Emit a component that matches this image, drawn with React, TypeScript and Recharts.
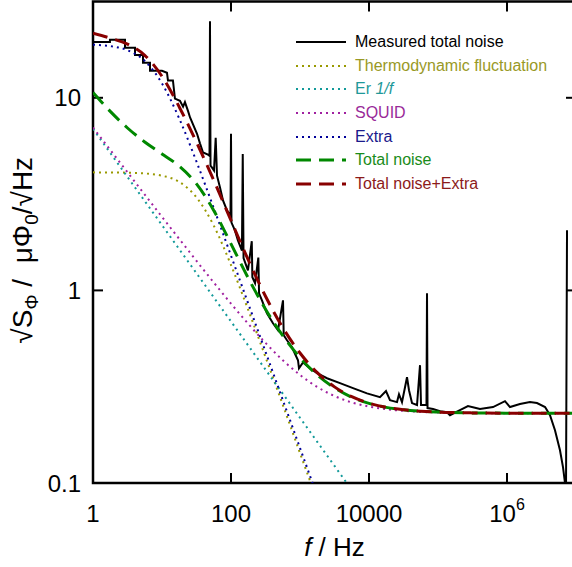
import { LineChart, Line, XAxis, YAxis, Legend, Label, ReferenceArea, ReferenceLine } from 'recharts'

const FONT = '"Liberation Sans", Arial, Helvetica, sans-serif'

// frequency grid of the model curves (Hz), quarter-decade steps
const FREQ = [
  1, 1.778, 3.162, 5.623, 10, 17.78, 31.62, 56.23, 100, 177.8, 316.2, 562.3, 1000,
  1778, 3162, 5623, 10000, 17780, 31620, 56230, 1e5, 316200, 1e6, 3162000, 1e7,
]

const THERMO = [
  4.1, 4.095, 4.083, 4.048, 3.94, 3.66, 3.04, 2.17, 1.354, 0.792, 0.451, 0.255, 0.143,
  0.081, null, null, null, null, null, null, null, null, null, null, null,
]
const ER = [
  6.9, 5.175, 3.88, 2.91, 2.182, 1.636, 1.227, 0.92, 0.69, 0.5175, 0.388, 0.291, 0.2182,
  0.1636, 0.1227, 0.092, null, null, null, null, null, null, null, null, null,
]
const SQUID = [
  7.004, 5.361, 4.105, 3.144, 2.41, 1.85, 1.423, 1.099, 0.854, 0.67, 0.534, 0.434, 0.364,
  0.315, 0.283, 0.262, 0.2495, 0.2416, 0.2369, 0.234, 0.2324, 0.2308, 0.2303, 0.23, 0.23,
]
const EXTRA = [
  18.85, 18.55, 17.67, 15.54, 11.87, 7.8, 4.66, 2.676, 1.515, 0.854, 0.4805, 0.2703, 0.152,
  0.0855, null, null, null, null, null, null, null, null, null, null, null,
]
const TOTAL = [
  10.65, 8.502, 6.969, 5.895, 5.108, 4.416, 3.574, 2.601, 1.743, 1.159, 0.799, 0.582, 0.448,
  0.364, 0.312, 0.279, 0.259, 0.247, 0.24, 0.2358, 0.2334, 0.2312, 0.2304, 0.2301, 0.23,
]
const TOTAL_EXTRA = [
  21.65, 20.41, 18.99, 16.62, 12.92, 8.963, 5.873, 3.732, 2.309, 1.44, 0.9325, 0.641, 0.473,
  0.374, 0.3155, 0.2805, 0.2597, 0.2472, 0.24, 0.2358, 0.2334, 0.2312, 0.2304, 0.2301, 0.23,
]

// measured spectrum (Hz, µΦ0/√Hz)
const MEAS_F = [
  1, 1.76, 1.76, 2.91, 2.91, 4.06, 4.06, 5.3, 5.3, 6.7, 6.7, 10, 11.8, 12.2, 14.4, 15.4,
  18.2, 20.2, 21.5, 23.8, 25.5, 32.2, 35.5, 39.3, 46.4, 48.8, 49.6, 50.5, 53.1, 56.7, 60,
  62.7, 69.3, 76.6, 87.5, 98.3, 100, 101.6, 114, 126, 144, 148, 152, 176, 200, 204, 223,
  249, 255, 281, 332, 406, 480, 567, 581, 648, 766, 935, 967, 1105, 1396, 1763, 2462,
  3800, 5865, 9355, 14430, 17630, 20150, 25470, 27210, 30070, 33260, 35550, 38000, 42000,
  49650, 54850, 56750, 68100, 69300, 70500, 84700, 107000, 135000, 149000, 208000, 272000,
  406000, 627000, 935000, 1105000, 1540000, 2150000, 2720000, 3560000, 4200000, 4960000,
  5860000, 6480000, 6930000, 7160000, 7410000,
]
const MEAS_V = [
  19.5, 19.5, 20, 20, 18.2, 18.2, 16.7, 16.7, 15.2, 15.2, 13.8, 13.8, 13.5, 12.3, 12.3, 9.9,
  9.65, 9.0, 9.5, 8.55, 7.9, 6.5, 5.8, 5.2, 5.07, 5.0, 25, 4.44, 4.34, 4.19, 6.2,
  3.94, 3.42, 2.93, 2.6, 2.45, 6.5, 2.25, 2.05, 1.82, 1.61, 5.1, 1.47, 1.27, 1.8, 1.17, 1.09,
  1.48, 0.965, 0.888, 0.76, 0.675, 0.621, 0.888, 0.585, 0.551, 0.507, 0.434, 0.394, 0.423,
  0.394, 0.372, 0.35, 0.33, 0.311, 0.292, 0.279, 0.3, 0.269, 0.263, 0.289, 0.263, 0.314,
  0.354, 0.303, 0.26, 0.254, 0.409, 0.254, 0.254, 0.965, 0.245, 0.242, 0.236, 0.233, 0.225,
  0.239, 0.251, 0.242, 0.248, 0.266, 0.248, 0.257, 0.263, 0.26, 0.248, 0.225, 0.188, 0.148,
  0.121, 0.1, 0.087, 2.05,
]

const X_TICKS = [1, 100, 10000, 1e6]
const Y_TICKS = [0.1, 1, 10]
const X_DOMAIN = [1, 1e7]
const Y_DOMAIN = [0.1, 31.62]

const modelRows = FREQ.map((f, i) => ({
  f,
  thermo: THERMO[i],
  er: ER[i],
  squid: SQUID[i],
  extra: EXTRA[i],
  total: TOTAL[i],
  totalExtra: TOTAL_EXTRA[i],
}))
const measRows = MEAS_F.map((f, i) => ({ f, v: MEAS_V[i] }))

const DOT = '2 4'
const DASH = '15 8'

const SERIES = [
  { key: 'v', name: 'Measured total noise', color: '#000000', text: '#000000', dash: undefined, width: 2 },
  { key: 'thermo', name: 'Thermodynamic fluctuation', color: '#999900', text: '#999926', dash: DOT, width: 2 },
  { key: 'er', name: 'Er 1/f', color: '#119999', text: '#1f9999', dash: DOT, width: 2 },
  { key: 'squid', name: 'SQUID', color: '#a020a0', text: '#992a99', dash: DOT, width: 2 },
  { key: 'extra', name: 'Extra', color: '#000099', text: '#1a1a8c', dash: DOT, width: 2 },
  { key: 'total', name: 'Total noise', color: '#008800', text: '#1a8c1a', dash: DASH, width: 3 },
  { key: 'totalExtra', name: 'Total noise+Extra', color: '#880000', text: '#8c1a1a', dash: DASH, width: 3 },
]

const TICK_LEN = 10
const TICK_W = 2
const X_LABEL_GAP = 22
const Y_LABEL_GAP = 12

function BottomTick({ x, y, payload }: any) {
  const v = payload.value as number
  const exp = Math.round(Math.log10(v))
  const common = { x, y, dy: '0.71em', textAnchor: 'middle' as const, fontSize: 24, fontFamily: FONT, fill: '#000' }
  if (exp >= 6) {
    return (
      <text {...common}>
        10<tspan dy={-12} fontSize={16}>{exp}</tspan>
      </text>
    )
  }
  return <text {...common}>{v}</text>
}

function LeftTick({ x, y, payload }: any) {
  return (
    <text x={x} y={y} dy="0.355em" textAnchor="end" fontSize={24} fontFamily={FONT} fill="#000">
      {payload.value}
    </text>
  )
}

// inward tick marks: drawn at both ends of a full-height / full-width reference line
function XTickMarks({ x1, y1, y2 }: any) {
  const top = Math.min(y1, y2)
  const bottom = Math.max(y1, y2)
  return (
    <g>
      <line x1={x1} x2={x1} y1={bottom} y2={bottom - TICK_LEN} stroke="#000" strokeWidth={TICK_W} />
      <line x1={x1} x2={x1} y1={top} y2={top + TICK_LEN} stroke="#000" strokeWidth={TICK_W} />
    </g>
  )
}

function YTickMarks({ x1, x2, y1 }: any) {
  const left = Math.min(x1, x2)
  const right = Math.max(x1, x2)
  return (
    <g>
      <line x1={left} x2={left + TICK_LEN} y1={y1} y2={y1} stroke="#000" strokeWidth={TICK_W} />
      <line x1={right} x2={right - TICK_LEN} y1={y1} y2={y1} stroke="#000" strokeWidth={TICK_W} />
    </g>
  )
}

function XTitle({ viewBox }: any) {
  const vb = viewBox ?? { x: 93, y: 483, width: 483, height: 84 }
  return (
    <text x={vb.x + vb.width / 2} y={vb.y + 73} textAnchor="middle" fontSize={26} fontFamily={FONT} fill="#000">
      <tspan fontStyle="italic">f</tspan> / Hz
    </text>
  )
}

function YTitle({ viewBox }: any) {
  const vb = viewBox ?? { x: 0, y: 1.5, width: 93, height: 481.5 }
  const cx = vb.x + 32
  const cy = vb.y + vb.height / 2 + 8
  return (
    <text
      x={cx}
      y={cy}
      transform={`rotate(-90 ${cx} ${cy})`}
      textAnchor="middle"
      fontSize={28}
      fontFamily={FONT}
      fill="#000"
      style={{ whiteSpace: 'pre' }}
    >
      √S<tspan dy={6} fontSize={19}>Φ</tspan>
      <tspan dy={-6}>{' /  μΦ'}</tspan>
      <tspan dy={6} fontSize={19}>0</tspan>
      <tspan dy={-6}>/√Hz</tspan>
    </text>
  )
}

function LegendBox() {
  return (
    <div style={{ fontFamily: FONT, fontSize: 16 }}>
      {SERIES.map((s) => (
        <div key={s.key} style={{ display: 'flex', alignItems: 'center', height: 23.7 }}>
          <svg width={50} height={6} style={{ display: 'block' }}>
            <line x1={0} y1={3} x2={50} y2={3} stroke={s.color} strokeWidth={s.width} strokeDasharray={s.dash} />
          </svg>
          <span style={{ marginLeft: 9, color: s.text, whiteSpace: 'nowrap' }}>
            {s.key === 'er' ? (
              <>
                Er <i>1/f</i>
              </>
            ) : (
              s.name
            )}
          </span>
        </div>
      ))}
    </div>
  )
}

export default function App() {
  return (
    <div style={{ position: 'absolute', left: 0, top: 0, width: 572, height: 567, overflow: 'hidden', background: '#fff' }}>
      <LineChart width={600} height={567} data={modelRows} margin={{ top: 1.5, right: 24, bottom: 0, left: 0 }}>
        <XAxis
          dataKey="f"
          type="number"
          scale="log"
          domain={X_DOMAIN}
          allowDataOverflow
          ticks={X_TICKS}
          interval={0}
          tick={<BottomTick />}
          tickSize={0}
          tickMargin={X_LABEL_GAP}
          height={84}
          axisLine={false}
          tickLine={false}
        >
          <Label content={<XTitle />} />
        </XAxis>
        <YAxis
          type="number"
          scale="log"
          domain={Y_DOMAIN}
          allowDataOverflow
          ticks={Y_TICKS}
          interval={0}
          width={93}
          tick={<LeftTick />}
          tickSize={0}
          tickMargin={Y_LABEL_GAP}
          axisLine={false}
          tickLine={false}
        >
          <Label content={<YTitle />} />
        </YAxis>
        {/* plot frame */}
        <ReferenceArea
          x1={X_DOMAIN[0]}
          x2={X_DOMAIN[1]}
          y1={Y_DOMAIN[0]}
          y2={Y_DOMAIN[1]}
          fill="none"
          stroke="#000"
          strokeWidth={2.5}
          ifOverflow="visible"
        />
        {X_TICKS.map((t) => (
          <ReferenceLine key={`xt${t}`} x={t} shape={XTickMarks} ifOverflow="visible" />
        ))}
        {Y_TICKS.map((t) => (
          <ReferenceLine key={`yt${t}`} y={t} shape={YTickMarks} ifOverflow="visible" />
        ))}
        <Legend
          layout="vertical"
          align="center"
          verticalAlign="middle"
          wrapperStyle={{ left: 296, top: 30, width: 'auto' }}
          content={<LegendBox />}
        />
        <Line
          data={measRows}
          dataKey="v"
          name="Measured total noise"
          type="linear"
          stroke="#000"
          strokeWidth={2}
          dot={false}
          isAnimationActive={false}
        />
        {SERIES.slice(1).map((s) => (
          <Line
            key={s.key}
            dataKey={s.key}
            name={s.name}
            type="monotone"
            stroke={s.color}
            strokeWidth={s.width}
            strokeDasharray={s.dash}
            dot={false}
            isAnimationActive={false}
          />
        ))}
      </LineChart>
    </div>
  )
}
